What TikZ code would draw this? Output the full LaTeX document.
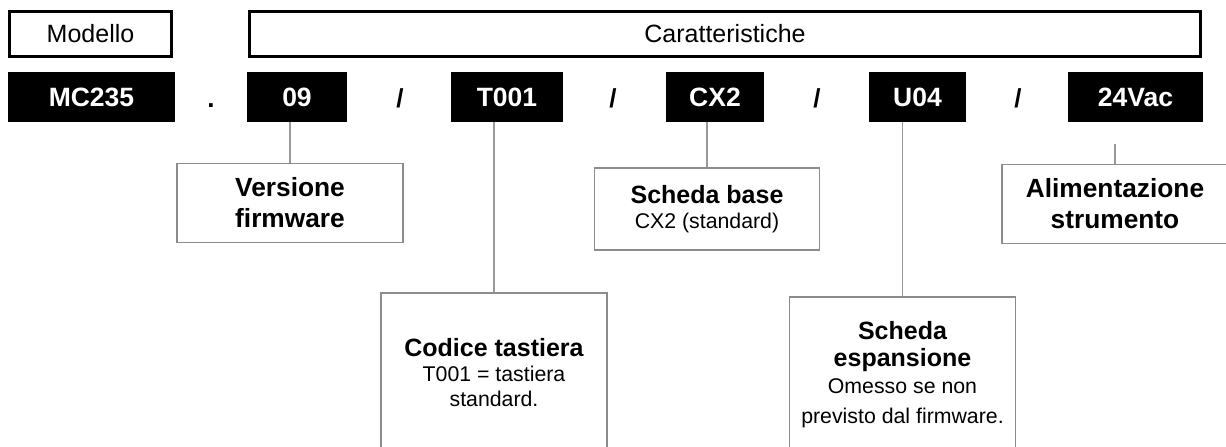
\documentclass[tikz,border=0pt]{standalone}
\usepackage{fontspec}
\setmainfont{Liberation Sans}
\newcommand{\bigb}{\bfseries\fontsize{25}{31}\selectfont}
\newcommand{\bigbb}{\bfseries\fontsize{26.3}{31}\selectfont}
\newcommand{\smallr}{\fontsize{21.3}{31}\selectfont}
\begin{document}
\begin{tikzpicture}[x=1pt,y=-1pt,
  hdr/.style={draw=black,line width=3pt,minimum height=45pt,inner sep=0pt,font=\fontsize{25}{30}\selectfont},
  codebox/.style={fill=black,text=white,minimum height=50pt,inner sep=0pt,font=\bfseries\fontsize{26.5}{30}\selectfont},
  sepmark/.style={anchor=base,inner sep=0pt,font=\bfseries\fontsize{26}{30}\selectfont},
  info/.style={draw=black!45,line width=1.5pt,align=center,inner sep=0pt,font=\fontsize{25}{31}\selectfont},
  link/.style={draw=black!40,line width=1.5pt}]
\clip (0,0) rectangle (1226,447);
\fill[white] (0,0) rectangle (1226,447);
% header boxes
\node[hdr,minimum width=162pt] (modello) at (90.5,33.5) {Modello};
\node[hdr,minimum width=951pt] (caratt) at (725,33.5) {Caratteristiche};
% code boxes
\node[codebox,minimum width=167pt] (mc) at (91.5,97) {MC235};
\node[codebox,minimum width=100pt] (v09) at (297,97) {09};
\node[codebox,minimum width=112pt] (t001) at (507,97) {T001};
\node[codebox,minimum width=98pt] (cx2) at (715,97) {CX2};
\node[codebox,minimum width=97pt] (u04) at (917.5,97) {U04};
\node[codebox,minimum width=135pt] (vac) at (1135.5,97) {24Vac};
% separators
\node[sepmark] (s0) at (211,107) {.};
\node[sepmark] (s1) at (400,107) {/};
\node[sepmark] (s2) at (613,107) {/};
\node[sepmark] (s3) at (817,107) {/};
\node[sepmark] (s4) at (1018,107) {/};
% info boxes
\node[info,minimum width=226pt,minimum height=79pt] (vers) at (290,203)
  {{\bigbb Versione}\\{\bigbb firmware}};
\node[info,minimum width=225pt,minimum height=82pt] (base) at (707,209)
  {{\bigb Scheda base}\\[-6pt]{\smallr CX2 (standard)}};
\node[info,minimum width=226pt,minimum height=79pt] (alim) at (1115,204)
  {{\bigbb Alimentazione}\\{\bigbb strumento}};
\node[info,minimum width=226pt,minimum height=160pt] (cod) at (494,373)
  {{\bigb Codice tastiera}\\[-6pt]{\smallr T001 = tastiera}\\[-6pt]{\smallr standard.}};
\node[info,minimum width=226pt,minimum height=156pt] (esp) at (902.5,375)
  {{\bigb Scheda}\\[-4pt]{\bigb espansione}\\[-4pt]{\smallr Omesso se non}\\[-1pt]{\smallr previsto dal firmware.}};
% connectors
\draw[link] (vers.north) -- (vers.north |- v09.south);
\draw[link] (cod.north) -- (cod.north |- t001.south);
\draw[link] (base.north) -- (base.north |- cx2.south);
\draw[link] (esp.north) -- (esp.north |- u04.south);
\coordinate (vactip) at ([yshift=-22pt]vac.south -| alim.north);
\draw[link] (alim.north) -- (vactip);
\end{tikzpicture}
\end{document}
